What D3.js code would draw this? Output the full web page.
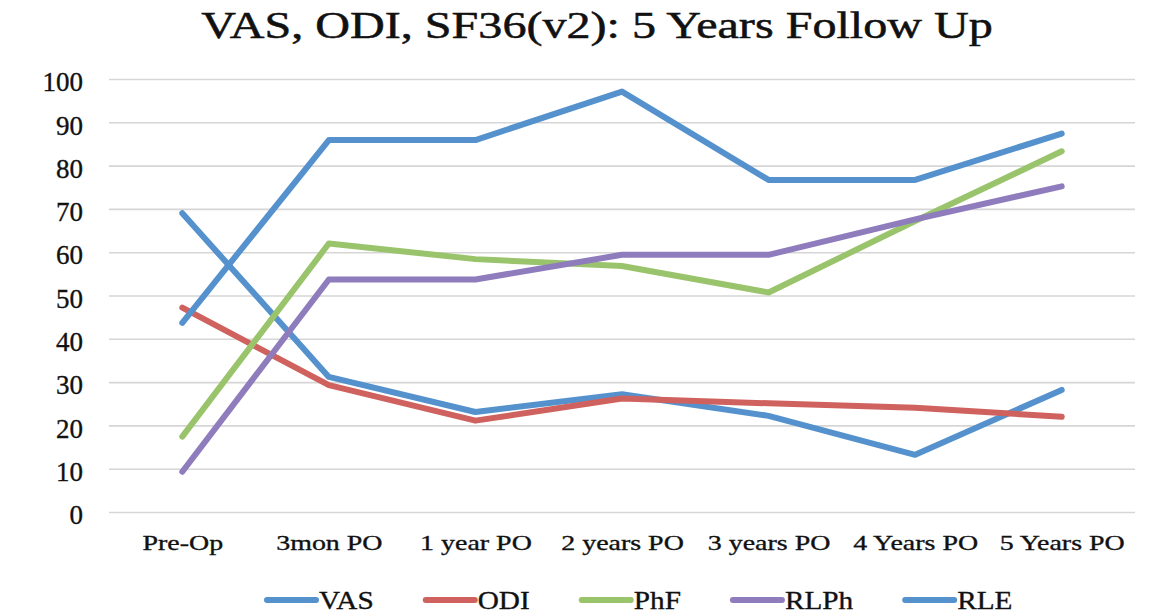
<!DOCTYPE html>
<html>
<head>
<meta charset="utf-8">
<script src="https://cdn.jsdelivr.net/npm/d3@7"></script>
<style>
  html, body { margin: 0; padding: 0; background: #fff; }
  svg { display: block; }
  text { font-family: "Liberation Serif", "Times New Roman", serif; fill: #111; stroke: #111; stroke-width: 0.35px; }
</style>
</head>
<body>
<svg id="chart" width="1162" height="616"></svg>
<script>
// ---- data ----
const title = "VAS, ODI, SF36(v2): 5 Years Follow Up";
const categories = ["Pre-Op", "3mon PO", "1 year PO", "2 years PO", "3 years PO", "4 Years PO", "5 Years PO"];
const seriesNames = ["VAS", "ODI", "PhF", "RLPh", "RLE"];
const VAS  = [69, 31.2, 23.1, 27.2, 22.2, 13.2, 28.2];
const ODI  = [47.2, 29.3, 21.1, 26.2, 25.1, 24.1, 22];
const PhF  = [17.4, 62, 58.4, 56.8, 50.7, 67.2, 83.3];
const RLPh = [9.3, 53.7, 53.7, 59.4, 59.4, 67.6, 75.2];
const RLE  = [43.7, 85.9, 85.9, 97.1, 76.7, 76.7, 87.4];
const yTicks = [0, 10, 20, 30, 40, 50, 60, 70, 80, 90, 100];
const colors = ["#5592CD", "#CF625E", "#9AC46C", "#8E7CBC", "#5592CD"];

const seriesValues = [VAS, ODI, PhF, RLPh, RLE];

// ---- layout ----
const svg = d3.select("#chart");
const serif = '"Liberation Serif", "Times New Roman", serif';
const plotLeft = 109, plotRight = 1135, plotTop = 79, plotBottom = 512;

const x = d3.scalePoint().domain(categories).range([plotLeft, plotRight]).padding(0.5);
const y = d3.scaleLinear().domain([0, 100]).range([plotBottom, plotTop]);

// helper: stretch text horizontally by factor k
function stretch(sel, k) {
  sel.each(function() {
    const w = this.getComputedTextLength();
    this.setAttribute("textLength", w * k);
    this.setAttribute("lengthAdjust", "spacingAndGlyphs");
  });
}

// title
svg.append("text")
  .attr("x", 597).attr("y", 38)
  .attr("text-anchor", "middle")
  .style("font-family", serif)
  .style("font-size", "37px")
  .style("stroke-width", "0.5px")
  .text(title)
  .call(stretch, 1.3);

// gridlines via axis
const yAxisGrid = d3.axisLeft(y).tickValues(yTicks).tickSize(-(plotRight - plotLeft)).tickFormat("");
const grid = svg.append("g").attr("transform", `translate(${plotLeft},0)`).call(yAxisGrid);
grid.select(".domain").remove();
grid.selectAll(".tick line").attr("stroke", "#d6d6d6").attr("stroke-width", 1.6);

// y labels
const yAxis = d3.axisLeft(y).tickValues(yTicks).tickSize(0).tickPadding(0).tickFormat(d3.format("d"));
const ya = svg.append("g").attr("transform", `translate(83,0)`).call(yAxis);
ya.attr("font-family", null).attr("font-size", null);
ya.select(".domain").remove();
ya.selectAll(".tick text")
  .attr("dy", "0.36em")
  .attr("y", 2)
  .style("font-family", serif)
  .style("font-size", "27px")
  .style("fill", "#111");

// x labels
const xAxis = d3.axisBottom(x).tickSize(0).tickPadding(0);
const xa = svg.append("g").attr("transform", `translate(0,538)`).call(xAxis);
xa.attr("font-family", null).attr("font-size", null);
xa.select(".domain").remove();
xa.selectAll(".tick text")
  .attr("dy", null).attr("y", 12)
  .style("font-family", serif)
  .style("font-size", "22px")
  .style("fill", "#111")
  .call(stretch, 1.27);

// lines
const line = d3.line().x((d, i) => x(categories[i])).y(d => y(d));
svg.append("g").selectAll("path")
  .data(seriesValues)
  .join("path")
  .attr("d", d => line(d))
  .attr("fill", "none")
  .attr("stroke", (d, i) => colors[i])
  .attr("stroke-width", 6)
  .attr("stroke-linecap", "round")
  .attr("stroke-linejoin", "round");

// legend
const legend = svg.append("g");
let lx = 265;
const ly = 600;
seriesNames.forEach((name, i) => {
  legend.append("line")
    .attr("x1", lx + 2).attr("x2", lx + 51)
    .attr("y1", ly).attr("y2", ly)
    .attr("stroke", colors[i]).attr("stroke-width", 6).attr("stroke-linecap", "round");
  const t = legend.append("text")
    .attr("x", lx + 54).attr("y", ly + 9)
    .style("font-family", serif)
    .style("font-size", "25px")
    .text(name)
    .call(stretch, 1.17);
  const w = +t.attr("textLength");
  lx += 54 + w + 50;
});
</script>
</body>
</html>
